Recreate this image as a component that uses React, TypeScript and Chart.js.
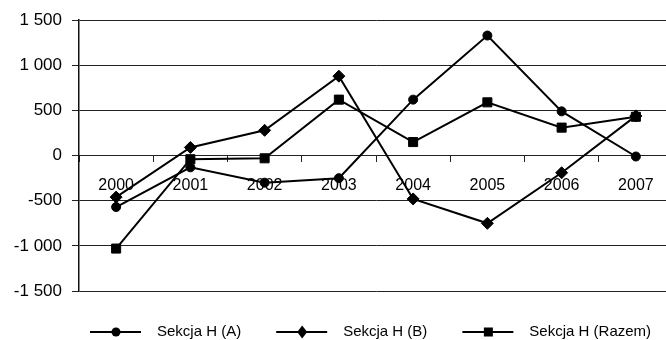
import { useEffect, useRef } from "react";
import { Chart, registerables } from "chart.js";

Chart.register(...registerables);

const years = ["2000", "2001", "2002", "2003", "2004", "2005", "2006", "2007"];
const sekcjaA = [-570, -130, -300, -250, 620, 1330, 490, -10];
const sekcjaB = [-460, 90, 280, 880, -480, -750, -190, 440];
const sekcjaRazem = [-1030, -40, -30, 620, 150, 590, 310, 430];
const seriesNames = ["Sekcja H (A)", "Sekcja H (B)", "Sekcja H (Razem)"];
const yMin = -1500;
const yMax = 1500;
const yStep = 500;

const FONT = '"Liberation Sans", Arial, sans-serif';

// "1 500", "-1 000" style tick labels
function formatThousands(v: number): string {
  const abs = Math.abs(v)
    .toString()
    .replace(/\B(?=(\d{3})+(?!\d))/g, " ");
  return (v < 0 ? "-" : "") + abs;
}

function drawMarker(ctx: CanvasRenderingContext2D, style: string, x: number, y: number) {
  ctx.beginPath();
  if (style === "circle") {
    ctx.arc(x, y, 4.5, 0, Math.PI * 2);
  } else if (style === "rectRot") {
    ctx.moveTo(x, y - 6.5);
    ctx.lineTo(x + 5, y);
    ctx.lineTo(x, y + 6.5);
    ctx.lineTo(x - 5, y);
    ctx.closePath();
  } else {
    ctx.rect(x - 4.5, y - 4.5, 9, 9);
  }
  ctx.fill();
}

// Legend with a line segment and marker for each series
const lineLegend = {
  id: "lineLegend",
  afterDraw(chart: any) {
    const ctx: CanvasRenderingContext2D = chart.ctx;
    const { left, bottom } = chart.chartArea;
    ctx.save();
    ctx.font = `15px ${FONT}`;
    ctx.textBaseline = "middle";
    ctx.textAlign = "left";
    ctx.fillStyle = "#000";
    ctx.strokeStyle = "#000";
    let x = left + 11;
    const y = bottom + 41;
    chart.data.datasets.forEach((ds: any) => {
      ctx.lineWidth = 2;
      ctx.beginPath();
      ctx.moveTo(x, y);
      ctx.lineTo(x + 51, y);
      ctx.stroke();
      drawMarker(ctx, ds.pointStyle, x + 26, y);
      ctx.fillText(ds.label, x + 67, y);
      x += 67 + ctx.measureText(ds.label).width + 35;
    });
    ctx.restore();
  },
};

export default function App() {
  const canvasRef = useRef<HTMLCanvasElement | null>(null);

  useEffect(() => {
    const canvas = canvasRef.current;
    if (!canvas) return;
    const mk = (label: string, data: number[], pointStyle: string, radius: number) => ({
      label,
      data,
      borderColor: "#000",
      backgroundColor: "#000",
      borderWidth: 2,
      pointStyle,
      pointRadius: radius,
      pointBorderWidth: 1,
      pointBackgroundColor: "#000",
      pointBorderColor: "#000",
      tension: 0,
    });
    const chart = new Chart(canvas, {
      type: "line",
      data: {
        labels: years,
        datasets: [
          mk(seriesNames[0], sekcjaA, "circle", 4.5),
          mk(seriesNames[1], sekcjaB, "rectRot", 6),
          mk(seriesNames[2], sekcjaRazem, "rect", 6.4),
        ],
      },
      plugins: [lineLegend],
      options: {
        responsive: false,
        animation: false,
        layout: { padding: { top: 20, bottom: 49, left: 0, right: 17 } },
        plugins: {
          legend: { display: false },
          tooltip: { enabled: false },
        },
        scales: {
          x: {
            position: { y: 0 },
            offset: true,
            grid: {
              offset: true,
              drawOnChartArea: false,
              drawTicks: true,
              tickLength: 6,
              color: "#222",
              lineWidth: 1,
            },
            border: { display: true, color: "#222", width: 1 },
            ticks: {
              autoSkip: false,
              maxRotation: 0,
              padding: 14,
              color: "#000",
              font: { family: FONT, size: 16 },
            },
          },
          y: {
            min: yMin,
            max: yMax,
            afterFit(scale: any) {
              scale.width = 79;
            },
            grid: {
              color: "#222",
              lineWidth: 1,
              drawTicks: true,
              tickLength: 7,
            },
            border: { display: true, color: "#111", width: 1.5 },
            ticks: {
              stepSize: yStep,
              padding: 10,
              color: "#000",
              font: { family: FONT, size: 17 },
              callback: (v: any) => formatThousands(Number(v)),
            },
          },
        },
      },
    } as any);
    return () => chart.destroy();
  }, []);

  return (
    <div
      style={{
        position: "fixed",
        left: 0,
        top: 0,
        width: 666,
        height: 340,
        overflow: "hidden",
        background: "#fff",
      }}
    >
      <canvas ref={canvasRef} width={690} height={340} style={{ display: "block" }} />
    </div>
  );
}
